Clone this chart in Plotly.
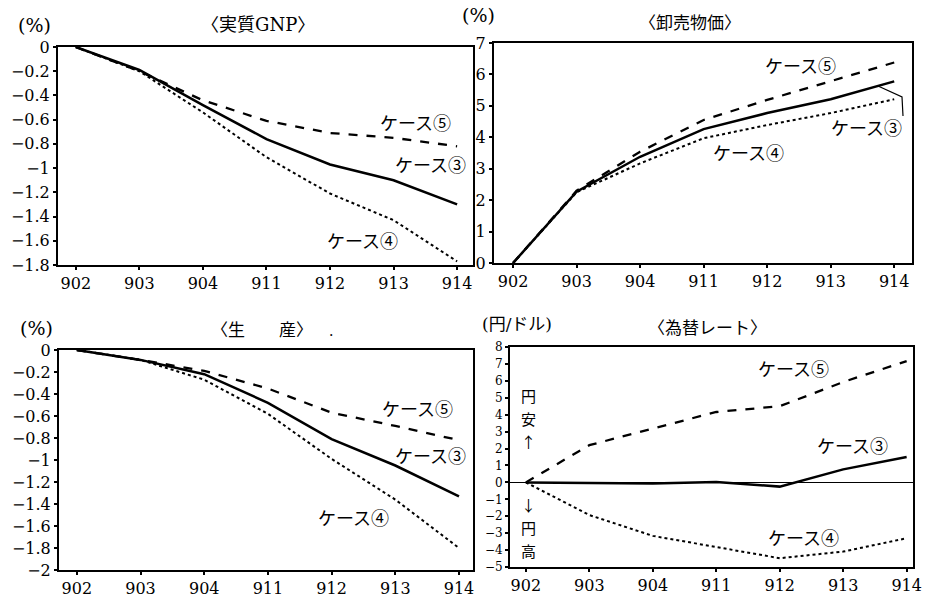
import plotly.graph_objects as go

# ---- data ----
quarters = ["902", "903", "904", "911", "912", "913", "914"]

gnp_case3 = [0, -0.19, -0.48, -0.76, -0.97, -1.10, -1.30]
gnp_case5 = [0, -0.20, -0.44, -0.61, -0.71, -0.75, -0.82]
gnp_case4 = [0, -0.20, -0.54, -0.91, -1.21, -1.43, -1.77]

wpi_case3 = [0, 2.27, 3.38, 4.26, 4.77, 5.21, 5.78]
wpi_case5 = [0, 2.30, 3.54, 4.55, 5.19, 5.78, 6.38]
wpi_case4 = [0, 2.25, 3.17, 3.97, 4.39, 4.77, 5.21]

prod_case3 = [0, -0.09, -0.22, -0.48, -0.81, -1.05, -1.33]
prod_case5 = [0, -0.09, -0.19, -0.35, -0.57, -0.69, -0.82]
prod_case4 = [0, -0.09, -0.27, -0.58, -0.99, -1.36, -1.80]

fx_case3 = [0, -0.03, -0.06, 0.02, -0.25, 0.77, 1.50]
fx_case5 = [0, 2.20, 3.18, 4.16, 4.50, 5.93, 7.17]
fx_case4 = [0, -1.93, -3.16, -3.80, -4.48, -4.09, -3.30]

gnp_ticks = [0, -0.2, -0.4, -0.6, -0.8, -1, -1.2, -1.4, -1.6, -1.8]
gnp_ticktext = ["0", "−0.2", "−0.4", "−0.6", "−0.8", "−1", "−1.2", "−1.4", "−1.6", "−1.8"]
wpi_ticks = [0, 1, 2, 3, 4, 5, 6, 7]
prod_ticks = [0, -0.2, -0.4, -0.6, -0.8, -1, -1.2, -1.4, -1.6, -1.8, -2]
prod_ticktext = ["0", "−0.2", "−0.4", "−0.6", "−0.8", "−1", "−1.2", "−1.4", "−1.6", "−1.8", "−2"]
fx_ticks = list(range(-5, 9))
fx_ticktext = [("−" + str(-v)) if v < 0 else str(v) for v in fx_ticks]

case_labels = ["ケース③", "ケース④", "ケース⑤"]
yen_weak = ["円", "安", "↑"]
yen_strong = ["↓", "円", "高"]

FONT = "DejaVu Serif"
JFONT = "Noto Sans CJK JP"
MIX = "DejaVu Serif, Noto Sans CJK JP"

fig = go.Figure()

panels = [
    ("x", "y", gnp_case3, gnp_case4, gnp_case5),
    ("x2", "y2", wpi_case3, wpi_case4, wpi_case5),
    ("x3", "y3", prod_case3, prod_case4, prod_case5),
    ("x4", "y4", fx_case3, fx_case4, fx_case5),
]
for xa, ya, c3, c4, c5 in panels:
    fig.add_trace(go.Scatter(x=quarters, y=c5, xaxis=xa, yaxis=ya, mode="lines",
                             line=dict(color="black", width=2.3, dash="dash"), showlegend=False))
    fig.add_trace(go.Scatter(x=quarters, y=c4, xaxis=xa, yaxis=ya, mode="lines",
                             line=dict(color="black", width=2, dash="dot"), showlegend=False))
    fig.add_trace(go.Scatter(x=quarters, y=c3, xaxis=xa, yaxis=ya, mode="lines",
                             line=dict(color="black", width=2.5), showlegend=False))

W, H = 930, 598
def dom_x(a, b):
    return [a / W, b / W]
def dom_y(top, bottom):
    return [1 - bottom / H, 1 - top / H]

axis_common = dict(showline=True, linecolor="black", linewidth=2, mirror=True,
                   showgrid=False, zeroline=False, ticks="outside", ticklen=3,
                   tickcolor="black", tickwidth=1.5, automargin=False,
                   tickfont=dict(family=FONT, size=16, color="black"))

fig.update_layout(
    width=W, height=H, margin=dict(l=0, r=0, t=0, b=0, autoexpand=False),
    paper_bgcolor="white", plot_bgcolor="white",
    xaxis=dict(domain=dom_x(58, 473), anchor="y", type="category", range=[-0.28, 6.25], **axis_common),
    yaxis=dict(domain=dom_y(47, 265), anchor="x", range=[-1.8, 0], tickvals=gnp_ticks, ticktext=gnp_ticktext, **axis_common),
    xaxis2=dict(domain=dom_x(494, 912), anchor="y2", type="category", range=[-0.30, 6.28], **axis_common),
    yaxis2=dict(domain=dom_y(43, 263), anchor="x2", range=[0, 7], tickvals=wpi_ticks, **axis_common),
    xaxis3=dict(domain=dom_x(59, 473), anchor="y3", type="category", range=[-0.28, 6.22], **axis_common),
    yaxis3=dict(domain=dom_y(350, 570), anchor="x3", range=[-2, 0], tickvals=prod_ticks, ticktext=prod_ticktext, **axis_common),
    xaxis4=dict(domain=dom_x(510, 913), anchor="y4", type="category", range=[-0.25, 6.1], **axis_common),
    yaxis4=dict(domain=dom_y(347, 567), anchor="x4", range=[-5, 8], tickvals=fx_ticks, ticktext=fx_ticktext,
                **{**axis_common, "tickfont": dict(family=FONT, size=12, color="black")}),
)
fig.layout.yaxis4.zeroline = True
fig.layout.yaxis4.zerolinecolor = "black"
fig.layout.yaxis4.zerolinewidth = 1

def txt(x, y, s, size=18, family=JFONT, **kw):
    fig.add_annotation(x=x / W, y=1 - y / H, xref="paper", yref="paper", text=s, showarrow=False,
                       xanchor="center", yanchor="middle",
                       font=dict(family=family, size=size, color="black"), **kw)

# panel headers
txt(34, 25, "(%)", 19, FONT)
txt(258, 25, "〈実質GNP〉", 18, MIX)
txt(479, 15, "(%)", 19, FONT)
txt(690, 22, "〈卸売物価〉", 17)
txt(36, 328, "(%)", 19, FONT)
txt(262, 328, "〈生　　産〉", 17)
txt(331, 331, ".", 14, FONT)
txt(517, 324, "(円/ドル)", 17, MIX)
txt(707, 326, "〈為替レート〉", 17)

# case labels
txt(415, 122, case_labels[2]); txt(430, 164, case_labels[0]); txt(362, 240, case_labels[1])
txt(800, 65, case_labels[2]); txt(866, 127, case_labels[0]); txt(748, 152, case_labels[1])
txt(417, 408, case_labels[2]); txt(430, 455, case_labels[0]); txt(353, 517, case_labels[1])
txt(793, 368, case_labels[2]); txt(852, 445, case_labels[0]); txt(803, 537, case_labels[1])

# yen labels (vertical)
for i, ch in enumerate(yen_weak):
    txt(528, 395 + 23 * i, ch, 15, borderpad=0)
for i, ch in enumerate(yen_strong):
    txt(528, 504 + 23 * i, ch, 15, borderpad=0)

# leader line for case 3 in wholesale prices panel
fig.add_shape(type="path", xref="paper", yref="paper",
              path=f"M {878/W} {1-86/H} L {902/W} {1-97/H} L {903/W} {1-116/H}",
              line=dict(color="black", width=1.2))

fig.write_html("out.html")
